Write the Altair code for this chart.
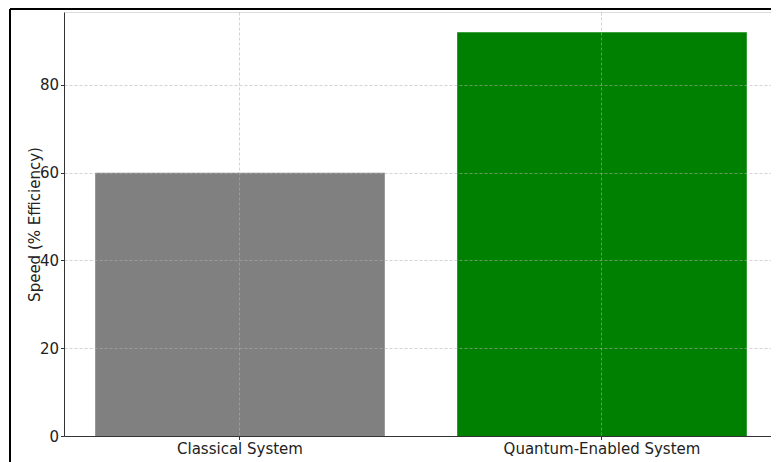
import altair as alt
import pandas as pd

systems = ["Classical System", "Quantum-Enabled System"]
speeds = [60, 92]
bar_colors = ["#808080", "#008000"]
y_ticks = [0, 20, 40, 60, 80]

df = pd.DataFrame({"system": systems, "speed": speeds, "color": bar_colors})

W, H = 707, 424
FONT = "DejaVu Sans"
GRID = dict(grid=True, gridDash=[3, 2], gridColor="#b0b0b0", gridOpacity=0.7, gridWidth=0.8)
AX = dict(domainColor="#333333", tickColor="#333333", tickSize=3.5,
          labelFont=FONT, labelFontSize=15, labelColor="#222222", labelPadding=2,
          labelLimit=0, zindex=1)

bars = alt.Chart(df).mark_bar().encode(
    x=alt.X(
        "system:N",
        sort=systems,
        scale=alt.Scale(paddingInner=0.2, paddingOuter=0.0765, align=0.563),
        axis=alt.Axis(title=None, labelAngle=0, **GRID, **AX),
    ),
    y=alt.Y(
        "speed:Q",
        scale=alt.Scale(domain=[0, 96.6], nice=False),
        axis=alt.Axis(
            values=y_ticks, title="Speed (% Efficiency)", **GRID, **AX,
            titleFont=FONT, titleFontSize=15, titleFontWeight="normal", titleColor="#222222",
            titlePadding=-3,
        ),
    ),
    color=alt.Color("color:N", scale=None),
)

frame_df = pd.DataFrame({"k": [0]})
frame_left = alt.Chart(frame_df).mark_rule(color="black", strokeWidth=2).encode(
    x=alt.value(-54), y=alt.value(-3), y2=alt.value(H + 40)
)
frame_top = alt.Chart(frame_df).mark_rule(color="black", strokeWidth=2).encode(
    x=alt.value(-54), x2=alt.value(W + 20), y=alt.value(-3)
)

chart = alt.layer(bars, frame_left, frame_top).properties(
    width=W, height=H,
    autosize=alt.AutoSizeParams(type="none"),
    padding={"left": 56, "top": 4, "right": 0, "bottom": 26},
).configure_view(stroke=None).configure(background="white")

chart.save("out.html", embed_options={"renderer": "svg", "actions": False})
